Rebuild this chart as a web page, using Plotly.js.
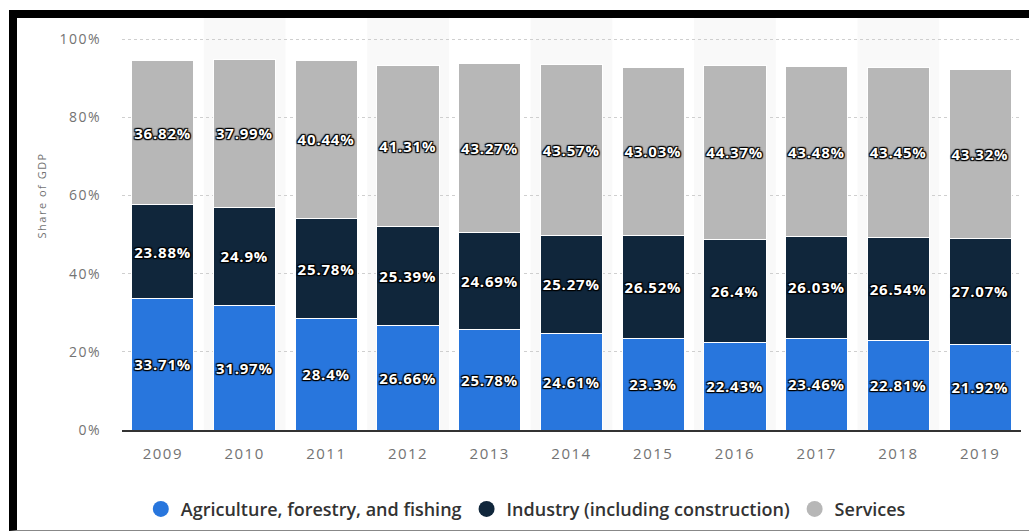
<!DOCTYPE html>
<html>
<head>
<meta charset="utf-8">
<script src="https://cdn.plot.ly/plotly-3.0.1.min.js"></script>
<style>
  html, body { margin: 0; padding: 0; background: #fff; }
  #wrap { position: relative; width: 1029px; height: 531px; overflow: hidden; }
  #chart { position: absolute; left: 0; top: 0; width: 1029px; height: 531px; }
  #frame { position: absolute; left: 9px; top: 10px; width: 1026px; height: 521px; box-sizing: border-box;
           border-left: 8px solid #000; border-top: 8px solid #000; border-right: 6px solid #000;
           border-bottom: 1px solid #888; pointer-events: none; }
  #chart .xtick text, #chart .ytick text { letter-spacing: 1.5px; }
  #chart .annotation-text { letter-spacing: 1.5px; }
  #chart text.bartext { letter-spacing: 0.8px; }
</style>
</head>
<body>
<div id="wrap">
  <div id="chart"></div>
  <div id="frame"></div>
</div>
<script>
const years = ['2009','2010','2011','2012','2013','2014','2015','2016','2017','2018','2019'];
const agriculture = [33.71, 31.97, 28.4, 26.66, 25.78, 24.61, 23.3, 22.43, 23.46, 22.81, 21.92];
const industry = [23.88, 24.9, 25.78, 25.39, 24.69, 25.27, 26.52, 26.4, 26.03, 26.54, 27.07];
const services = [36.82, 37.99, 40.44, 41.31, 43.27, 43.57, 43.03, 44.37, 43.48, 43.45, 43.32];
const seriesNames = ['Agriculture, forestry, and fishing', 'Industry (including construction)', 'Services'];
const seriesColors = ['#2876dd', '#10263b', '#b7b7b7'];
const yTickVals = [0, 20, 40, 60, 80, 100];
const yTickText = ['0%', '20%', '40%', '60%', '80%', '100%'];

const labelFont = {
  family: 'Open Sans, sans-serif', size: 15, color: '#fff', weight: 700,
  shadow: '0px 0px 1px #000, 0px 0px 2px #000, 1px 1px 1px #000, -1px -1px 1px #000, 1px -1px 1px #000, -1px 1px 1px #000'
};

const seriesData = [agriculture, industry, services];
const traces = seriesData.map((vals, i) => ({
  type: 'bar',
  x: years,
  y: vals,
  name: seriesNames[i],
  marker: { color: seriesColors[i], line: { color: '#fff', width: 1 } },
  text: vals.map(v => v + '%'),
  textposition: 'inside',
  insidetextanchor: 'middle',
  constraintext: 'none',
  textangle: 0,
  textfont: labelFont,
  hoverinfo: 'skip',
  showlegend: false
}));

// legend entries with round markers
seriesNames.forEach((n, i) => {
  traces.push({
    type: 'scatter', mode: 'markers', x: [null], y: [null], name: n,
    marker: { color: seriesColors[i], size: 16, symbol: 'circle' },
    showlegend: true, hoverinfo: 'skip'
  });
});

// alternating background bands behind every other category
const shapes = [];
years.forEach((y, i) => {
  if (i % 2 === 1) {
    shapes.push({
      type: 'rect', xref: 'x', yref: 'paper', x0: i - 0.5, x1: i + 0.5, y0: 0, y1: 1,
      fillcolor: '#f9f9f9', line: { width: 0 }, layer: 'below'
    });
  }
});

const layout = {
  width: 1029, height: 531,
  margin: { l: 122, r: 8, t: 18, b: 101 },
  paper_bgcolor: '#fff', plot_bgcolor: 'rgba(0,0,0,0)',
  barmode: 'stack', bargap: 0.24,
  font: { family: 'Open Sans, sans-serif', color: '#666' },
  xaxis: {
    type: 'category', range: [-0.5, years.length - 0.5],
    showgrid: false, zeroline: false, showline: true, linecolor: '#333', linewidth: 1.5,
    ticks: '', ticklabelstandoff: 9,
    tickfont: { family: 'Open Sans, sans-serif', size: 15, color: '#737373' }
  },
  yaxis: {
    range: [0, 105.4], tickvals: yTickVals, ticktext: yTickText,
    showgrid: true, gridcolor: '#cfcfcf', griddash: 'dot', gridwidth: 1,
    zeroline: false, showline: false, ticks: '', ticklabelstandoff: 20,
    tickfont: { family: 'Open Sans, sans-serif', size: 14, color: '#737373' }
  },
  shapes: shapes,
  annotations: [{
    text: 'Share of GDP', textangle: -90, xref: 'paper', yref: 'y', x: 0, y: 60,
    xanchor: 'center', yanchor: 'middle', xshift: -81, showarrow: false,
    font: { family: 'Open Sans, sans-serif', size: 11, color: '#737373' }
  }],
  showlegend: true,
  legend: {
    orientation: 'h', traceorder: 'normal', xref: 'container', yref: 'container', x: 0.511, y: 0.041,
    xanchor: 'center', yanchor: 'middle',
    font: { family: 'Open Sans, sans-serif', size: 18, color: '#333', weight: 600 },
    itemclick: false, itemdoubleclick: false
  }
};

Plotly.newPlot('chart', traces, layout, { staticPlot: true, displayModeBar: false });
</script>
</body>
</html>
